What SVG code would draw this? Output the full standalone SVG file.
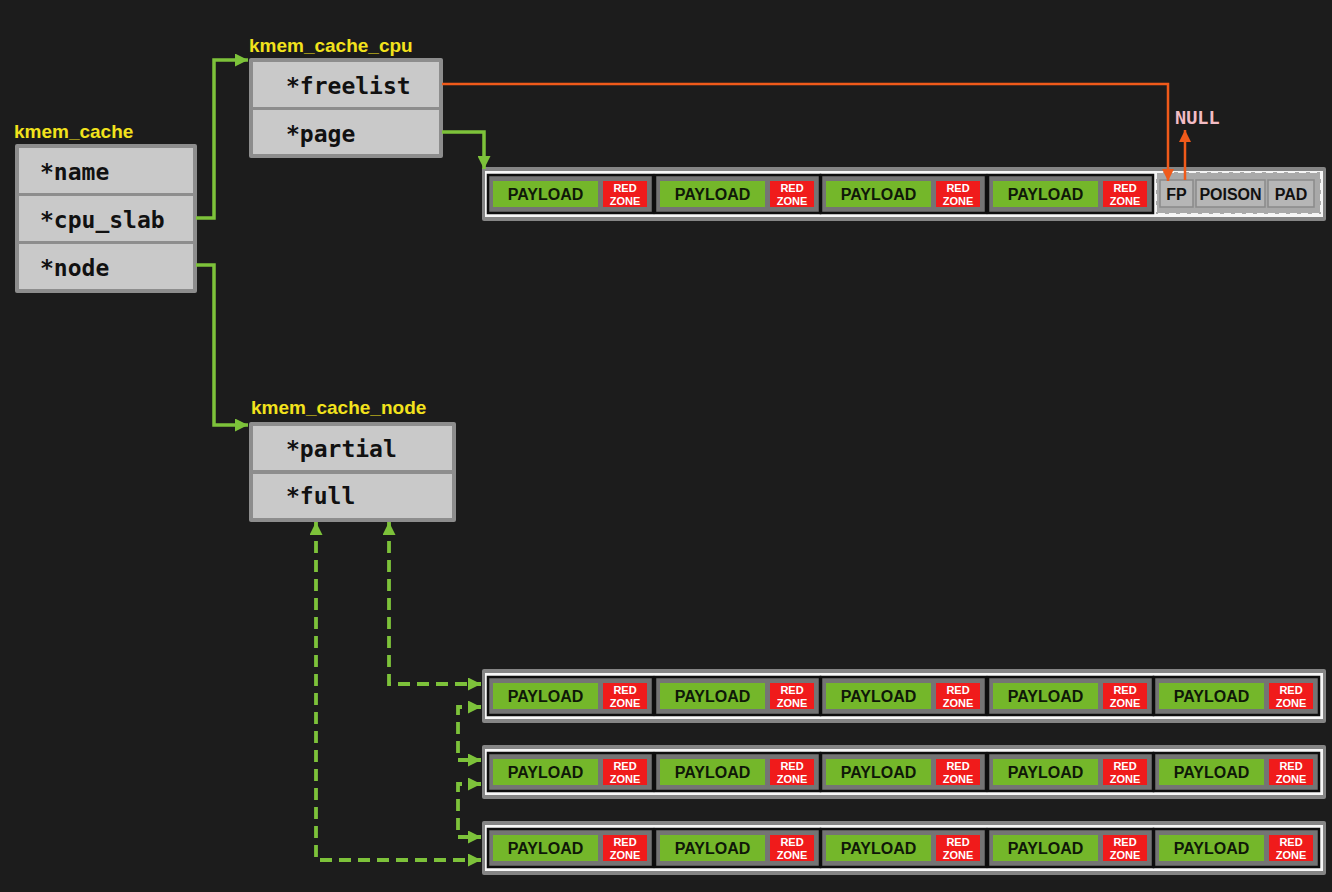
<svg xmlns="http://www.w3.org/2000/svg" xmlns:xlink="http://www.w3.org/1999/xlink" width="1332" height="892" viewBox="0 0 1332 892">
<style>
.bg{fill:#1c1c1c}
.lbl{font-family:"Liberation Sans",Arial,sans-serif;font-weight:bold;font-size:19px;fill:#f2e21c}
.box{fill:#8d8d8d}
.row{fill:#c9c9c9}
.fld{font-family:"DejaVu Sans Mono","Liberation Mono",monospace;font-weight:bold;font-size:23px;fill:#111}
.slab{fill:#858585}
.slabin{fill:#f7f7f7}
.obj{fill:#747474;stroke:#0e0e0e;stroke-width:2.5}
.pay{fill:#74b72a}
.rz{fill:#f01b1b}
.pt{font-family:"Liberation Sans",Arial,sans-serif;font-weight:bold;font-size:16px;fill:#0f1808;text-anchor:middle}
.rt{font-family:"Liberation Sans",Arial,sans-serif;font-weight:bold;font-size:11px;fill:#fff;text-anchor:middle}
.g{fill:none;stroke:#7dc23a;stroke-width:3.5}
.gd{fill:none;stroke:#7dc23a;stroke-width:3.8;stroke-dasharray:12 7}
.o{fill:none;stroke:#f05a1a;stroke-width:2.5}
.meta{fill:#b6b6b6;stroke:#8a8a8a;stroke-width:1.5}
.mt{font-family:"Liberation Sans",Arial,sans-serif;font-weight:bold;font-size:16px;fill:#111;text-anchor:middle}
</style>
<defs>
<marker id="ag" viewBox="0 0 10 10" refX="10" refY="5" markerWidth="13" markerHeight="13" markerUnits="userSpaceOnUse" orient="auto-start-reverse"><path d="M0,0 L10,5 L0,10 z" fill="#7dc23a"/></marker>
<marker id="ao" viewBox="0 0 10 10" refX="10" refY="5" markerWidth="12" markerHeight="12" markerUnits="userSpaceOnUse" orient="auto"><path d="M0,0 L10,5 L0,10 z" fill="#f05a1a"/></marker>
<g id="obj">
<rect class="obj" x="0" y="0" width="165" height="38"/>
<rect class="pay" x="5" y="6" width="105" height="26"/>
<rect class="rz" x="115" y="6" width="44" height="26"/>
<text class="pt" x="57.5" y="25">PAYLOAD</text>
<text class="rt" x="137" y="17">RED</text>
<text class="rt" x="137" y="30">ZONE</text>
</g>
</defs>
<rect class="bg" x="0" y="0" width="1332" height="892"/>

<g id="kmem_cache">
<text class="lbl" x="14" y="138">kmem_cache</text>
<rect class="box" x="15" y="144" width="182" height="149" rx="2"/>
<rect class="row" x="19" y="148" width="174" height="45"/>
<rect class="row" x="19" y="196" width="174" height="45"/>
<rect class="row" x="19" y="244" width="174" height="45"/>
<text class="fld" x="40" y="180">*name</text>
<text class="fld" x="40" y="228">*cpu_slab</text>
<text class="fld" x="40" y="276">*node</text>
</g>

<g id="kmem_cache_cpu">
<text class="lbl" x="249" y="52">kmem_cache_cpu</text>
<rect class="box" x="249" y="58" width="194" height="100" rx="2"/>
<rect class="row" x="253" y="62" width="186" height="45"/>
<rect class="row" x="253" y="110" width="186" height="44"/>
<text class="fld" x="286" y="94">*freelist</text>
<text class="fld" x="286" y="142">*page</text>
</g>

<g id="kmem_cache_node">
<text class="lbl" x="251" y="414">kmem_cache_node</text>
<rect class="box" x="249" y="422" width="207" height="100" rx="2"/>
<rect class="row" x="253" y="426" width="199" height="44"/>
<rect class="row" x="253" y="474" width="199" height="44"/>
<text class="fld" x="286" y="457">*partial</text>
<text class="fld" x="286" y="504">*full</text>
</g>

<g id="cpu_slab_page">
<rect class="slab" x="482" y="167" width="844" height="54" rx="2"/>
<rect class="slabin" x="485" y="171" width="838" height="46"/>
<use xlink:href="#obj" x="488" y="175"/>
<use xlink:href="#obj" x="655" y="175"/>
<use xlink:href="#obj" x="821" y="175"/>
<use xlink:href="#obj" x="988" y="175"/>
<rect x="1156" y="172" width="165" height="42" fill="#a9a9a9" stroke="#f5f5f5" stroke-width="2" stroke-dasharray="7 4"/>
<rect class="meta" x="1160" y="180" width="33" height="27"/>
<rect class="meta" x="1196" y="180" width="69" height="27"/>
<rect class="meta" x="1268" y="180" width="46" height="27"/>
<text class="mt" x="1176.5" y="200">FP</text>
<text class="mt" x="1230.5" y="200">POISON</text>
<text class="mt" x="1291" y="200">PAD</text>
</g>

<g id="null">
<text x="1175" y="124" font-family="DejaVu Sans Mono,monospace" font-weight="bold" font-size="18.5" fill="#f2bcc4">NULL</text>
</g>

<g id="slab1">
<rect class="slab" x="482" y="669" width="844" height="54" rx="2"/>
<rect class="slabin" x="485" y="673" width="838" height="46"/>
<use xlink:href="#obj" x="488" y="677"/>
<use xlink:href="#obj" x="655" y="677"/>
<use xlink:href="#obj" x="821" y="677"/>
<use xlink:href="#obj" x="988" y="677"/>
<use xlink:href="#obj" x="1154" y="677"/>
</g>
<g id="slab2">
<rect class="slab" x="482" y="745" width="844" height="54" rx="2"/>
<rect class="slabin" x="485" y="749" width="838" height="46"/>
<use xlink:href="#obj" x="488" y="753"/>
<use xlink:href="#obj" x="655" y="753"/>
<use xlink:href="#obj" x="821" y="753"/>
<use xlink:href="#obj" x="988" y="753"/>
<use xlink:href="#obj" x="1154" y="753"/>
</g>
<g id="slab3">
<rect class="slab" x="482" y="821" width="844" height="54" rx="2"/>
<rect class="slabin" x="485" y="825" width="838" height="46"/>
<use xlink:href="#obj" x="488" y="829"/>
<use xlink:href="#obj" x="655" y="829"/>
<use xlink:href="#obj" x="821" y="829"/>
<use xlink:href="#obj" x="988" y="829"/>
<use xlink:href="#obj" x="1154" y="829"/>
</g>

<g id="connectors">
<path class="g" d="M196,218 H214 V60 H248" marker-end="url(#ag)"/>
<path class="g" d="M196,265 H214 V425 H248" marker-end="url(#ag)"/>
<path class="g" d="M442,132 H484 V169" marker-end="url(#ag)"/>
<path class="o" d="M442,84 H1168 V181" marker-end="url(#ao)"/>
<path class="o" d="M1185,180 V130" marker-end="url(#ao)"/>
<path class="gd" d="M389,522 V684 H481" marker-start="url(#ag)" marker-end="url(#ag)"/>
<path class="gd" d="M316,522 V860 H481" marker-start="url(#ag)" marker-end="url(#ag)"/>
<path class="gd" d="M481,707 H458 V760 H481" marker-start="url(#ag)" marker-end="url(#ag)"/>
<path class="gd" d="M481,784 H458 V837 H481" marker-start="url(#ag)" marker-end="url(#ag)"/>
</g>
</svg>
